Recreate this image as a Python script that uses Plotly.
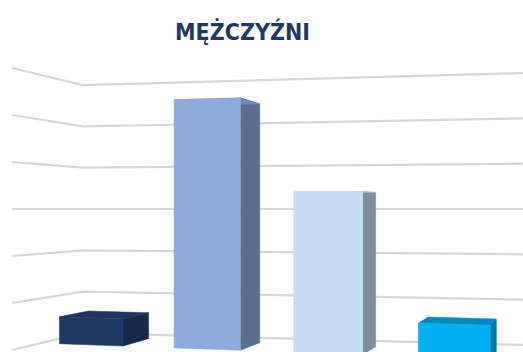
import plotly.graph_objects as go

# Data: share of men per group (percent)
categories = ["Grupa 1", "Grupa 2", "Grupa 3", "Grupa 4"]
values = [6.0, 53.6, 33.6, 6.8]
grid_levels = [0, 10, 20, 30, 40, 50, 60]

# Bar colours: front face, side face, top face
front_colors = ["#1f3864", "#8faadc", "#c5ddf3", "#00b0f0"]
side_colors = ["#16294a", "#5a6e8f", "#7e8c9b", "#0076a3"]
top_colors = ["#1d355f", "#6f87b5", "#a9bfd4", "#0089bd"]

TITLE = "MĘŻCZYŹNI"
W, H = 523, 352

# Simple perspective model of the 3D plot (canvas units)
HORIZON_Y = 209.0
HORIZON_V = 30.0
DEPTH_SHRINK = 0.054
HALF_WIDTH = 0.28


def cat_x(u):
    return 91 + 116 * u + 2.5 * u * (u - 1)


def front_k(x):
    return 4.53 + (x - 91) * 0.0012


def depth_dx(x):
    return 29 - 0.053 * (x - 59)


def project(u, v, d):
    x = cat_x(u)
    y = HORIZON_Y - (v - HORIZON_V) * front_k(x) * (1 - DEPTH_SHRINK * d)
    return x + d * depth_dx(x), y


def wall_k(x):
    return 4.13 + (x - 83) * 0.00091


fig = go.Figure()

# Gridlines on the left and back walls
for lv in grid_levels:
    xs = [12, 83, 540]
    ks = [4.7, wall_k(83), wall_k(540)]
    ys = [HORIZON_Y - (lv - HORIZON_V) * k for k in ks]
    fig.add_trace(go.Scatter(
        x=xs, y=ys, mode="lines",
        line=dict(color="rgb(214,214,214)", width=2.2),
        hoverinfo="skip", showlegend=False,
    ))


def polygon(points, color, name, hover=True):
    xs = [p[0] for p in points] + [points[0][0]]
    ys = [p[1] for p in points] + [points[0][1]]
    fig.add_trace(go.Scatter(
        x=xs, y=ys, mode="lines", fill="toself",
        fillcolor=color, line=dict(color=color, width=0.5),
        name=name, hoverinfo="name" if hover else "skip",
        showlegend=False,
    ))


# 3D bars: side, top, then front face
for i, (cat, val) in enumerate(zip(categories, values)):
    u0, u1 = i - HALF_WIDTH, i + HALF_WIDTH
    side = [project(u1, 0, 0), project(u1, val, 0), project(u1, val, 1), project(u1, 0, 1)]
    top = [project(u0, val, 0), project(u1, val, 0), project(u1, val, 1), project(u0, val, 1)]
    front = [project(u0, 0, 0), project(u0, val, 0), project(u1, val, 0), project(u1, 0, 0)]
    polygon(side, side_colors[i], f"{cat}: {val}", hover=False)
    polygon(top, top_colors[i], f"{cat}: {val}", hover=False)
    polygon(front, front_colors[i], f"{cat}: {val}")

fig.add_annotation(
    text=TITLE, x=0.464, y=31, xref="paper", yref="y",
    showarrow=False, xanchor="center", yanchor="middle",
    font=dict(family="DejaVu Sans Condensed, sans-serif",
              size=23, color="#1f3864", weight="bold"),
)

fig.update_layout(
    width=W, height=H,
    margin=dict(l=0, r=0, t=0, b=0),
    paper_bgcolor="white", plot_bgcolor="white",
    xaxis=dict(range=[0, W], visible=False, fixedrange=True),
    yaxis=dict(range=[H, 0], visible=False, fixedrange=True),
    showlegend=False,
)

fig.write_html("out.html")
